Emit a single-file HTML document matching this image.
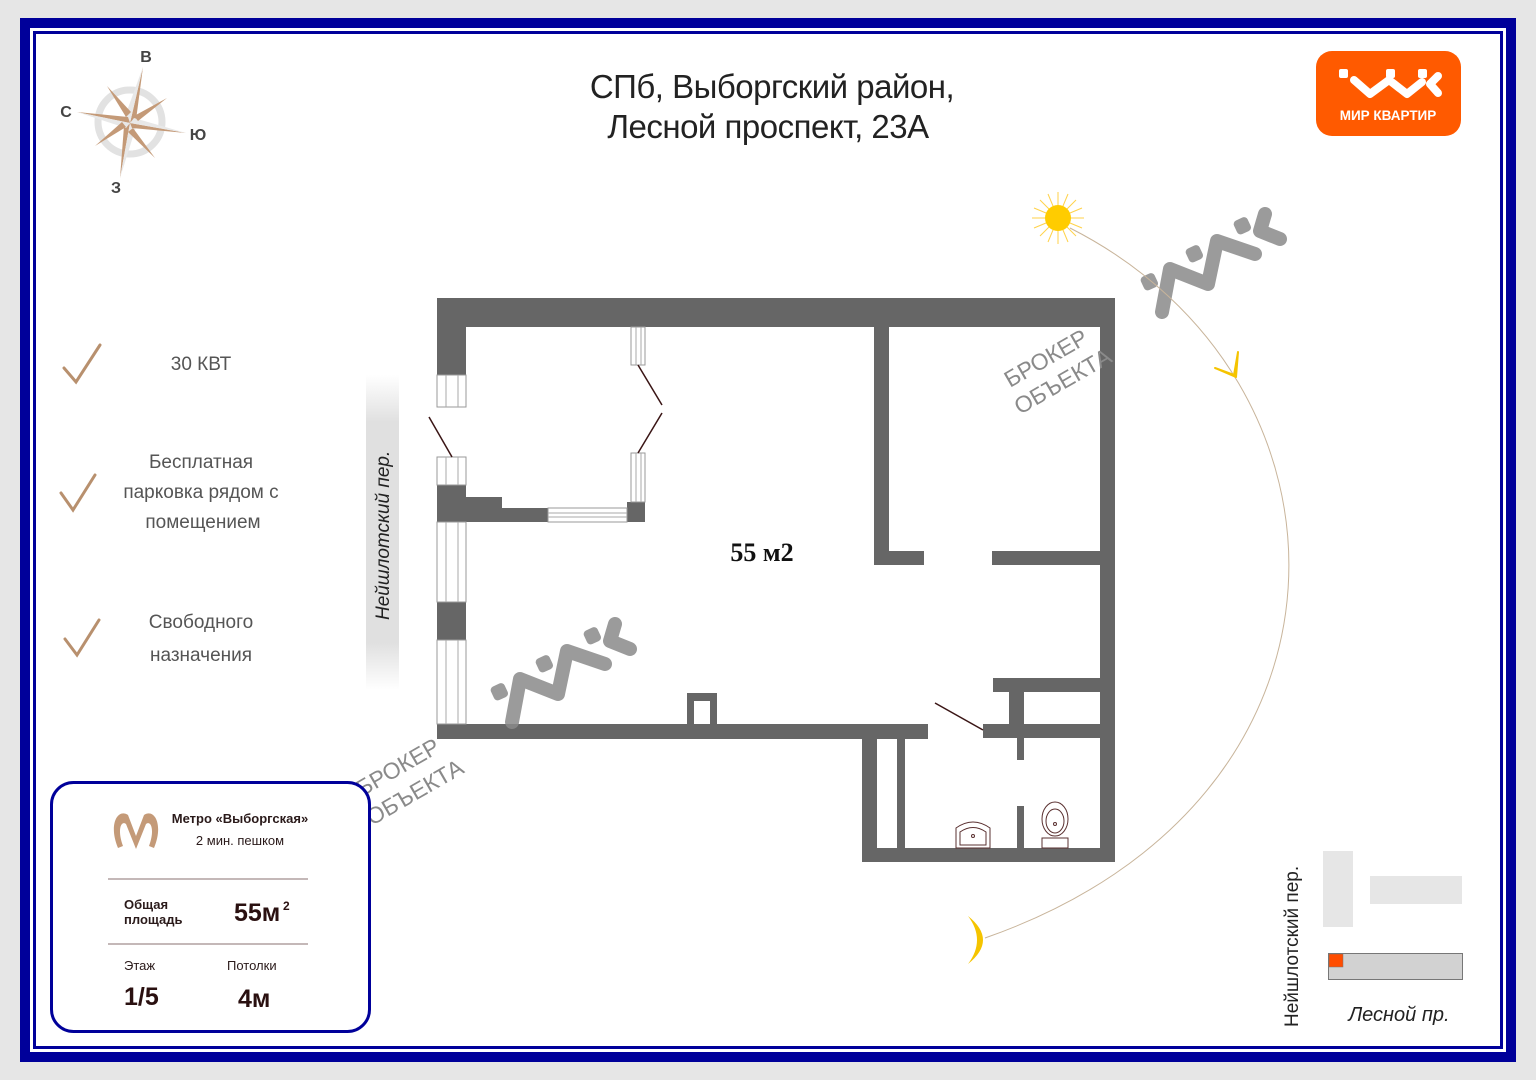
<!DOCTYPE html>
<html><head><meta charset="utf-8"><style>
html,body{margin:0;padding:0;background:#e6e6e6;}
svg{display:block;}
text{font-family:"Liberation Sans","DejaVu Sans",sans-serif;}
</style></head><body>
<svg width="1536" height="1080" viewBox="0 0 1536 1080" xmlns="http://www.w3.org/2000/svg">
<rect width="1536" height="1080" fill="#e6e6e6"/>
<rect x="20" y="18" width="1496" height="1044" fill="#00009a"/>
<rect x="30" y="28" width="1476" height="1024" fill="#fff"/>
<rect x="34.5" y="32.5" width="1467" height="1015" fill="none" stroke="#00009a" stroke-width="3"/>

<!-- compass -->
<g>
<circle cx="130" cy="122" r="32" fill="none" stroke="#e2e2e2" stroke-width="7"/>
<polygon points="143,67 136,120 130,123" fill="#c49a78"/>
<polygon points="143,67 130,123 124,119" fill="#e8e8e8"/>
<polygon points="120,178 124,126 130,123" fill="#c49a78"/>
<polygon points="120,178 130,123 136,127" fill="#e8e8e8"/>
<polygon points="77,112 128,117 130,123" fill="#c49a78"/>
<polygon points="77,112 130,123 126,128" fill="#e8e8e8"/>
<polygon points="186,133 132,128 130,123" fill="#c49a78"/>
<polygon points="186,133 130,123 134,118" fill="#e8e8e8"/>
<polygon points="107,86 126,117 131,112" fill="#c49a78"/>
<polygon points="167,98 134,116 138,121" fill="#c49a78"/>
<polygon points="155,158 133,128 128,132" fill="#c49a78"/>
<polygon points="95,146 126,127 122,122" fill="#c49a78"/>
<text x="146" y="62" font-size="16" font-weight="bold" fill="#444" text-anchor="middle">В</text>
<text x="66" y="117" font-size="16" font-weight="bold" fill="#444" text-anchor="middle">С</text>
<text x="198" y="140" font-size="16" font-weight="bold" fill="#444" text-anchor="middle">Ю</text>
<text x="116" y="193" font-size="16" font-weight="bold" fill="#444" text-anchor="middle">З</text>
</g>

<!-- title -->
<text x="772" y="98" font-size="33" fill="#222" text-anchor="middle" letter-spacing="-0.5">СПб, Выборгский район,</text>
<text x="768" y="138" font-size="33" fill="#222" text-anchor="middle" letter-spacing="-0.5">Лесной проспект, 23А</text>

<!-- logo -->
<rect x="1316" y="51" width="145" height="85" rx="16" fill="#ff5a00"/>
<g stroke="#fff" stroke-width="8" fill="none" stroke-linecap="round" stroke-linejoin="round">
<path d="M1354,80 L1370,94 L1389,80 L1407,94 L1422,82"/>
<path d="M1438,76 L1430,84 L1438,93"/>
</g>
<g fill="#fff"><rect x="1339" y="69" width="9" height="9" rx="2"/><rect x="1386" y="69" width="9" height="9" rx="2"/><rect x="1418" y="69" width="9" height="9" rx="2"/></g>
<text x="1388" y="120" font-size="13.5" font-weight="bold" fill="#fff" text-anchor="middle">МИР КВАРТИР</text>

<!-- checklist -->
<g stroke="#b8906e" stroke-width="3" fill="none" stroke-linecap="round">
<path d="M64,368 L76,382 L100,345"/>
<path d="M61,493 L73,510 L95,475"/>
<path d="M65,639 L77,655 L99,620"/>
</g>
<g font-size="19" fill="#555" text-anchor="middle">
<text x="201" y="370">30 КВТ</text>
<text x="201" y="468">Бесплатная</text>
<text x="201" y="498">парковка рядом с</text>
<text x="203" y="528">помещением</text>
<text x="201" y="628">Свободного</text>
<text x="201" y="661">назначения</text>
</g>

<!-- street bar -->
<defs><linearGradient id="sg" x1="0" x2="0" y1="0" y2="1">
<stop offset="0" stop-color="#fff"/><stop offset="0.15" stop-color="#e0e0e0"/><stop offset="0.85" stop-color="#e0e0e0"/><stop offset="1" stop-color="#fff"/></linearGradient></defs>
<rect x="366" y="375" width="33" height="315" fill="url(#sg)"/>
<text transform="translate(389,620) rotate(-90)" font-size="19" font-style="italic" fill="#222">Нейшлотский пер.</text>

<!-- floor plan -->
<g fill="#666">
<rect x="437" y="298" width="678" height="29"/>
<rect x="437" y="298" width="29" height="77"/>
<rect x="437" y="485" width="29" height="37"/>
<rect x="466" y="497" width="36" height="25"/>
<rect x="502" y="508" width="46" height="14"/>
<rect x="627" y="502" width="18" height="20"/>
<rect x="437" y="602" width="29" height="38"/>
<rect x="437" y="724" width="491" height="15"/>
<rect x="687" y="693" width="30" height="31"/>
<rect x="874" y="327" width="15" height="238"/>
<rect x="874" y="551" width="50" height="14"/>
<rect x="992" y="551" width="108" height="14"/>
<rect x="1100" y="298" width="15" height="564"/>
<rect x="993" y="678" width="107" height="14"/>
<rect x="1009" y="678" width="15" height="60"/>
<rect x="983" y="724" width="117" height="14"/>
<rect x="1017" y="738" width="7" height="22"/>
<rect x="1017" y="806" width="7" height="44"/>
<rect x="862" y="848" width="253" height="14"/>
<rect x="862" y="738" width="15" height="124"/>
<rect x="897" y="738" width="8" height="110"/>
<rect x="862" y="724" width="66" height="14"/>
</g>
<rect x="694" y="701" width="16" height="23" fill="#fff"/>
<g fill="#fff" stroke="#999" stroke-width="1">
<rect x="437" y="375" width="29" height="32"/>
<rect x="437" y="457" width="29" height="28"/>
<rect x="437" y="522" width="29" height="80"/>
<rect x="437" y="640" width="29" height="84"/>
<rect x="631" y="327" width="14" height="38"/>
<rect x="631" y="453" width="14" height="49"/>
<rect x="548" y="508" width="79" height="14"/>
</g>
<g stroke="#aaa" stroke-width="1">
<line x1="446" y1="375" x2="446" y2="407"/><line x1="458" y1="375" x2="458" y2="407"/>
<line x1="446" y1="457" x2="446" y2="485"/><line x1="458" y1="457" x2="458" y2="485"/>
<line x1="446" y1="522" x2="446" y2="602"/><line x1="458" y1="522" x2="458" y2="602"/>
<line x1="446" y1="640" x2="446" y2="724"/><line x1="458" y1="640" x2="458" y2="724"/>
<line x1="636" y1="327" x2="636" y2="365"/><line x1="641" y1="327" x2="641" y2="365"/>
<line x1="636" y1="453" x2="636" y2="502"/><line x1="641" y1="453" x2="641" y2="502"/>
<line x1="548" y1="513" x2="627" y2="513"/><line x1="548" y1="517" x2="627" y2="517"/>
</g>
<g stroke="#3a1515" stroke-width="1.5">
<line x1="429" y1="417" x2="452" y2="457"/>
<line x1="638" y1="365" x2="662" y2="405"/>
<line x1="662" y1="413" x2="638" y2="453"/>
<line x1="935" y1="703" x2="983" y2="730"/>
</g>
<g fill="#fff" stroke="#5a3030" stroke-width="1">
<path d="M956,848 L956,828 Q973,816 990,828 L990,848 Z"/>
<path d="M960,845 L960,832 Q973,823 986,832 L986,845 Z"/>
<circle cx="973" cy="836" r="1.5"/>
<rect x="1042" y="838" width="26" height="10"/>
<ellipse cx="1055" cy="819" rx="13" ry="17"/>
<ellipse cx="1055" cy="821" rx="9" ry="12"/>
<circle cx="1055" cy="824" r="1.5"/>
</g>
<text x="762" y="561" style="font-family:'Liberation Serif',serif;font-size:26px;font-weight:bold" fill="#111" text-anchor="middle">55 м2</text>

<!-- watermarks -->
<defs>
<g id="wm">
<g fill="none" stroke="#8a8a8a" stroke-width="14" stroke-linecap="round" stroke-linejoin="round">
<path d="M0,0 L8,-43 L46,-28 L55,-71 L93,-58"/>
<path d="M103,-98 L98,-81 L118,-73"/>
</g>
<g fill="#8a8a8a">
<rect x="-20" y="-38" width="15" height="15" rx="4" transform="rotate(-25 -12 -30)"/>
<rect x="25" y="-66" width="15" height="15" rx="4" transform="rotate(-25 33 -58)"/>
<rect x="73" y="-94" width="15" height="15" rx="4" transform="rotate(-25 81 -86)"/>
</g>
</g></defs>
<use href="#wm" transform="translate(512,722)" opacity="0.85"/>
<use href="#wm" transform="translate(1162,312)" opacity="0.85"/>
<g font-size="23" fill="#8a8a8a">
<text transform="translate(1010,388) rotate(-30)">БРОКЕР</text>
<text transform="translate(1020,415) rotate(-30)">ОБЪЕКТА</text>
<text transform="translate(362,797) rotate(-30)">БРОКЕР</text>
<text transform="translate(372,826) rotate(-30)">ОБЪЕКТА</text>
</g>

<!-- sun, arc, moon -->
<path d="M1070,228 C1370,380 1380,800 985,938" fill="none" stroke="#c8b49a" stroke-width="1"/>
<g stroke="#ffd24a" stroke-width="1">
<line x1="1058" y1="192" x2="1058" y2="244"/><line x1="1032" y1="218" x2="1084" y2="218"/>
<line x1="1040" y1="200" x2="1076" y2="236"/><line x1="1040" y1="236" x2="1076" y2="200"/>
<line x1="1048" y1="194" x2="1068" y2="242"/><line x1="1068" y1="194" x2="1048" y2="242"/>
<line x1="1034" y1="208" x2="1082" y2="228"/><line x1="1034" y1="228" x2="1082" y2="208"/>
</g>
<circle cx="1058" cy="218" r="13" fill="#ffcc00"/>
<path d="M1215,368 L1234,375 L1238,352 L1236,377 Z" fill="#f5c400" stroke="#f5c400" stroke-width="2" stroke-linejoin="round"/>
<path d="M968,916 Q998,940 968,964 Q986,940 968,916 Z" fill="#f5c400"/>

<!-- info box -->
<rect x="51.5" y="782.5" width="318" height="249" rx="22" fill="#fff" stroke="#00009a" stroke-width="3"/>
<path d="M118,848 C108,824 118,808 128,815 L136,836 L144,815 C154,808 164,824 154,848 L149,846 C155,830 151,820 146,824 L136,849 L126,824 C121,820 117,830 123,846 Z" fill="#c49a78"/>
<text x="240" y="823" font-size="13" font-weight="bold" fill="#2a1a1a" text-anchor="middle">Метро «Выборгская»</text>
<text x="240" y="845" font-size="13" fill="#2a1a1a" text-anchor="middle">2 мин. пешком</text>
<line x1="108" y1="879" x2="308" y2="879" stroke="#8a7070" stroke-width="1"/>
<line x1="108" y1="944" x2="308" y2="944" stroke="#8a7070" stroke-width="1"/>
<text x="124" y="909" font-size="13" font-weight="bold" fill="#2a1a1a">Общая</text>
<text x="124" y="924" font-size="13" font-weight="bold" fill="#2a1a1a">площадь</text>
<text x="234" y="921" font-size="25" font-weight="bold" fill="#2a1010">55м</text>
<text x="283" y="910" font-size="12" font-weight="bold" fill="#2a1010">2</text>
<text x="124" y="970" font-size="13" fill="#2a1a1a">Этаж</text>
<text x="227" y="970" font-size="13" fill="#2a1a1a">Потолки</text>
<text x="124" y="1005" font-size="25" font-weight="bold" fill="#2a1010">1/5</text>
<text x="238" y="1007" font-size="25" font-weight="bold" fill="#2a1010">4м</text>

<!-- mini map -->
<rect x="1323" y="851" width="30" height="76" fill="#e6e6e6"/>
<rect x="1370" y="876" width="92" height="28" fill="#e6e6e6"/>
<rect x="1328.5" y="953.5" width="134" height="26" fill="#d2d2d2" stroke="#777" stroke-width="1"/>
<rect x="1329" y="954" width="14" height="13" fill="#ff4d00" stroke="#777" stroke-width="0.5"/>
<text transform="translate(1298,1027) rotate(-90)" font-size="19" fill="#222">Нейшлотский пер.</text>
<text x="1399" y="1021" font-size="20" font-style="italic" fill="#222" text-anchor="middle">Лесной пр.</text>
</svg>
</body></html>
